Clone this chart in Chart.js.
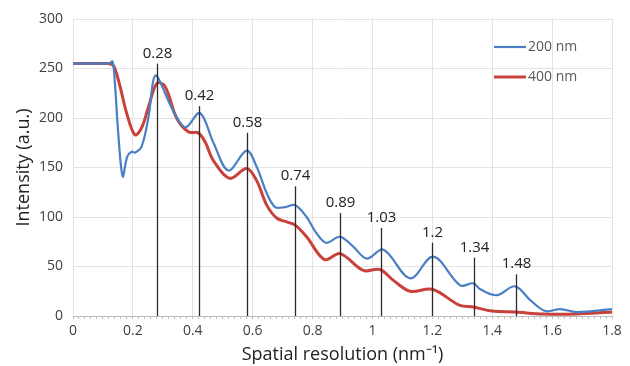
<!DOCTYPE html>
<html>
<head>
<meta charset="utf-8">
<script src="https://cdn.jsdelivr.net/npm/chart.js@4"></script>
<style>
  html, body { margin: 0; padding: 0; background: #fff; }
  #wrap { width: 630px; height: 366px; }
</style>
</head>
<body>
<div id="wrap"><canvas id="mtf"></canvas></div>
<script>
// 200 nm curve (x in nm^-1, intensity in a.u.)
const x200 = [0, 0.10, 0.12, 0.132, 0.14, 0.151, 0.166, 0.181, 0.196, 0.207, 0.229, 0.252, 0.268, 0.277, 0.29, 0.33, 0.363, 0.38, 0.424, 0.469, 0.519, 0.58, 0.613, 0.647, 0.675, 0.708, 0.741, 0.78, 0.81, 0.845, 0.892, 0.936, 0.981, 1.037, 1.126, 1.203, 1.293, 1.337, 1.36, 1.415, 1.476, 1.527, 1.577, 1.627, 1.682, 1.8];
const y200 = [255, 255, 255, 257, 235, 185, 141, 161, 166, 165, 171, 201, 238, 243, 237, 210, 193, 191, 205, 175, 147, 167, 151, 124, 110, 110, 112, 100, 85, 74, 80, 70, 58, 67, 38, 60, 31, 33, 27, 21, 30, 16, 5, 7, 4, 7];

// 400 nm curve
const x400 = [0, 0.10, 0.117, 0.135, 0.157, 0.179, 0.207, 0.229, 0.252, 0.28, 0.307, 0.346, 0.385, 0.418, 0.441, 0.469, 0.524, 0.58, 0.613, 0.647, 0.68, 0.714, 0.741, 0.78, 0.84, 0.892, 0.97, 1.025, 1.07, 1.126, 1.2, 1.29, 1.337, 1.40, 1.476, 1.57, 1.68, 1.8];
const y400 = [255, 255, 255, 253, 232, 205, 183, 190, 211, 235, 232, 200, 186, 185, 176, 157, 139, 149, 137, 112, 99, 95, 92, 80, 57, 63, 46, 47, 36, 25, 27, 11, 9, 5, 4, 2, 2, 4];

// resolution markers
const markX = [0.28, 0.42, 0.58, 0.74, 0.89, 1.03, 1.2, 1.34, 1.48];
const markTop = [255, 212, 185, 131, 104, 89, 74, 59, 42];
const markLabels = ['0.28', '0.42', '0.58', '0.74', '0.89', '1.03', '1.2', '1.34', '1.48'];

const FONT = "'Open Sans', sans-serif";

function pts(xs, ys) {
  return xs.map((x, i) => ({ x: x, y: ys[i] }));
}

// vertical marker lines + labels, positioned with the chart scales
const markers = {
  id: 'markers',
  afterDatasetsDraw(chart) {
    const { ctx, scales: { x, y } } = chart;
    ctx.save();
    ctx.strokeStyle = '#2b2b2b';
    ctx.lineWidth = 1.3;
    ctx.fillStyle = '#222';
    ctx.font = '15px ' + FONT;
    ctx.textAlign = 'center';
    ctx.textBaseline = 'alphabetic';
    markX.forEach((v, i) => {
      const px = Math.round(x.getPixelForValue(v)) + 0.5;
      const top = y.getPixelForValue(markTop[i]);
      ctx.beginPath();
      ctx.moveTo(px, y.getPixelForValue(0));
      ctx.lineTo(px, top);
      ctx.stroke();
      ctx.fillText(markLabels[i], px, top - 6);
    });
    ctx.restore();
  }
};

// legend in the top right corner
const legendBox = {
  id: 'legendBox',
  afterDraw(chart) {
    const { ctx } = chart;
    ctx.save();
    ctx.font = '14px ' + FONT;
    ctx.textBaseline = 'middle';
    ctx.fillStyle = '#595959';
    chart.data.datasets.forEach((ds, i) => {
      const ly = 47 + i * 30;
      ctx.strokeStyle = ds.borderColor;
      ctx.lineWidth = ds.borderWidth;
      ctx.beginPath();
      ctx.moveTo(494, ly);
      ctx.lineTo(526, ly);
      ctx.stroke();
      ctx.fillText(ds.label, 528, ly);
    });
    ctx.restore();
  }
};

const isMajor = v => Math.round(v * 100) % 20 === 0;

new Chart(document.getElementById('mtf'), {
  type: 'line',
  data: {
    datasets: [
      { label: '200 nm', data: pts(x200, y200), borderColor: '#4a7fc4', borderWidth: 2.2,
        pointRadius: 0, tension: 0.35 },
      { label: '400 nm', data: pts(x400, y400), borderColor: '#c9413b', borderWidth: 3,
        pointRadius: 0, tension: 0.35 }
    ]
  },
  options: {
    responsive: true,
    maintainAspectRatio: false,
    animation: false,
    layout: { padding: { top: 19, right: 18, left: 0, bottom: 0 } },
    plugins: { legend: { display: false }, tooltip: { enabled: false } },
    scales: {
      x: {
        type: 'linear',
        min: 0, max: 1.8,
        afterFit: s => { s.height = 50; },
        ticks: {
          stepSize: 0.02, autoSkip: false, maxRotation: 0, padding: 4,
          color: '#404040', font: { family: FONT, size: 14 },
          callback: v => isMajor(v) ? String(Math.round(v * 10) / 10) : ''
        },
        grid: {
          color: c => (c.tick && isMajor(c.tick.value)) ? '#e3e3e3' : 'rgba(0,0,0,0)',
          tickColor: '#bdbdbd', tickLength: 3
        },
        border: { color: '#bdbdbd' },
        title: { display: true, text: 'Spatial resolution (nm⁻¹)', color: '#222',
          font: { family: FONT, size: 18 }, padding: { top: 0, bottom: 0 } }
      },
      y: {
        min: 0, max: 300,
        afterFit: s => { s.width = 73; },
        ticks: { stepSize: 50, padding: 10, color: '#404040', font: { family: FONT, size: 14 } },
        grid: { color: '#e3e3e3', drawTicks: false },
        border: { display: false },
        title: { display: true, text: 'Intensity (a.u.)', color: '#222',
          font: { family: FONT, size: 18 }, padding: { top: 13, bottom: 0 } }
      }
    }
  },
  plugins: [markers, legendBox]
});
</script>
</body>
</html>
